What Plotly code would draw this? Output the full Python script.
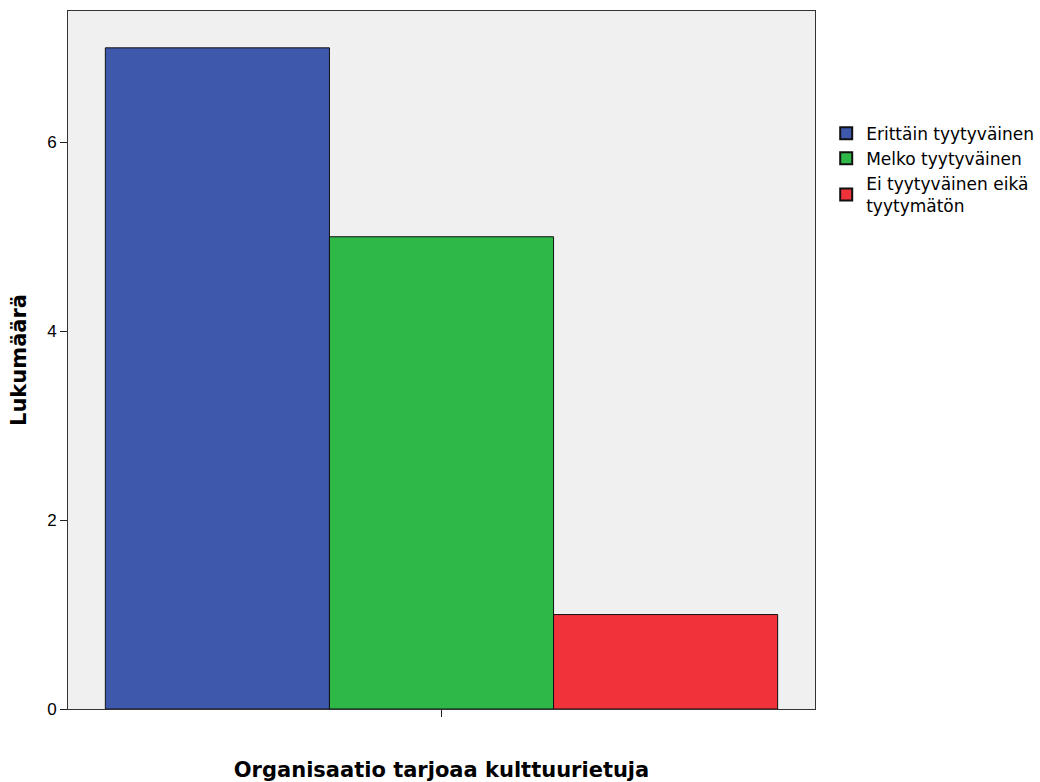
import plotly.graph_objects as go

# Counts per satisfaction level
categories = ["Erittäin tyytyväinen", "Melko tyytyväinen", "Ei tyytyväinen eikä<br>tyytymätön"]
counts = [7, 5, 1]
colors = ["#3E58AC", "#2EB848", "#F0323A"]
y_ticks = [0, 2, 4, 6]
x_title = "Organisaatio tarjoaa kulttuurietuja"
y_title = "Lukumäärä"

title_font = dict(family="DejaVu Sans, Verdana, sans-serif", size=21, color="#000000")

fig = go.Figure()
for name, val, col in zip(categories, counts, colors):
    fig.add_trace(go.Bar(
        x=[0], y=[val], name=name,
        marker=dict(color=col, line=dict(color="#111111", width=1)),
        hoverinfo="name+y",
    ))

fig.update_layout(
    width=1040, height=782,
    barmode="group", bargap=0.1, bargroupgap=0,
    paper_bgcolor="white", plot_bgcolor="#F0F0F0",
    margin=dict(l=68, r=225, t=11, b=73, autoexpand=False),
    font=dict(family="Liberation Sans, Arial, sans-serif", size=17, color="#000000"),
    legend=dict(
        x=1.015, y=0.85, xanchor="left", yanchor="top",
        font=dict(family="DejaVu Sans, sans-serif", size=17),
        tracegroupgap=0, itemsizing="constant",
        bgcolor="rgba(0,0,0,0)",
    ),
    xaxis=dict(
        range=[-0.5, 0.5], tickvals=[0], ticktext=[""],
        ticks="outside", ticklen=7, tickcolor="#222222",
        showgrid=False, zeroline=False,
        showline=True, linecolor="#333333", linewidth=1, mirror=True,
        title=dict(text="<b>" + x_title + "</b>", font=title_font, standoff=42),
    ),
    yaxis=dict(
        range=[0, 7.39], tickvals=y_ticks,
        ticks="outside", ticklen=7, tickcolor="#222222",
        showgrid=False, zeroline=False,
        showline=True, linecolor="#333333", linewidth=1, mirror=True,
        title=dict(text="<b>" + y_title + "</b>", font=title_font, standoff=14),
    ),
)

fig.write_html("out.html")
